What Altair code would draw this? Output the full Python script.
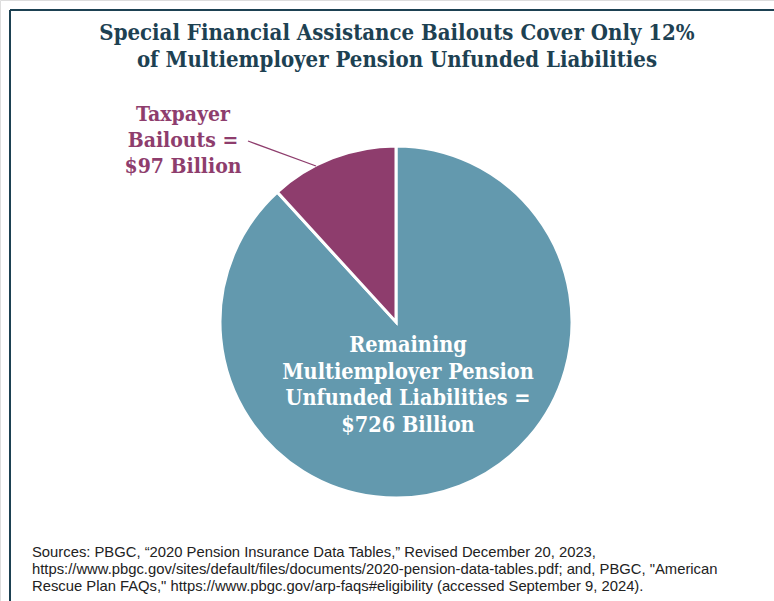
import altair as alt
import pandas as pd

categories = ["Remaining Multiemployer Pension Unfunded Liabilities", "Taxpayer Bailouts"]
values = [726, 97]
colors = ["#6399ae", "#8e3d6d"]
order = [0, 1]

title_lines = ["Special Financial Assistance Bailouts Cover Only 12%",
               "of Multiemployer Pension Unfunded Liabilities"]
bailout_label = ["Taxpayer", "Bailouts =", "$97 Billion"]
remaining_label = ["Remaining", "Multiemployer Pension", "Unfunded Liabilities =", "$726 Billion"]
source_lines = [
    "Sources: PBGC, \u201c2020 Pension Insurance Data Tables,\u201d Revised December 20, 2023,",
    "https://www.pbgc.gov/sites/default/files/documents/2020-pension-data-tables.pdf; and, PBGC, \"American",
    "Rescue Plan FAQs,\" https://www.pbgc.gov/arp-faqs#eligibility (accessed September 9, 2024).",
]

W, H = 774, 601
serif = "DejaVu Serif Condensed, DejaVu Serif"
navy = "#1d4152"

pie_df = pd.DataFrame({"cat": categories, "val": values, "ord": order})

pie = alt.Chart(pie_df).mark_arc(radius=176, stroke="white", strokeWidth=3).encode(
    theta=alt.Theta("val:Q", stack=True),
    order=alt.Order("ord:Q"),
    color=alt.Color("cat:N", scale=alt.Scale(domain=categories, range=colors), legend=None),
    x=alt.value(396),
    y=alt.value(322),
)

def text_layer(lines, x, y0, dy, size, color, font, weight="bold", align="center"):
    df = pd.DataFrame({"t": lines, "i": list(range(len(lines)))})
    return alt.Chart(df).mark_text(
        fontSize=size, font=font, fontWeight=weight, color=color, align=align, baseline="middle"
    ).transform_calculate(
        yy=f"{y0} + datum.i * {dy}"
    ).encode(
        text="t:N",
        x=alt.value(x),
        y=alt.Y("yy:Q", scale=None),
    )

title = text_layer(title_lines, 397, 33, 27, 22, navy, serif)
blab = text_layer(bailout_label, 183, 115, 26, 21, "#8e3d6d", serif)
rlab = text_layer(remaining_label, 408, 346, 26.5, 21.5, "white", serif)
src = text_layer(source_lines, 32, 553, 17, 14.8, "#222222", "Liberation Sans", weight="normal", align="left")

leader = alt.Chart(pd.DataFrame({"a": [0]})).mark_rule(color="#8e3d6d", strokeWidth=1.3).encode(
    x=alt.value(248), y=alt.value(141), x2=alt.value(316), y2=alt.value(166)
)
border_top = alt.Chart(pd.DataFrame({"a": [0]})).mark_rule(color=navy, strokeWidth=2).encode(
    x=alt.value(10), x2=alt.value(W), y=alt.value(10)
)
border_left = alt.Chart(pd.DataFrame({"a": [0]})).mark_rule(color=navy, strokeWidth=2).encode(
    x=alt.value(10), y=alt.value(10), y2=alt.value(H)
)

chart = alt.layer(pie, leader, title, blab, rlab, src, border_top, border_left).properties(
    width=W, height=H, padding=0, autosize=alt.AutoSizeParams(type="none")
).configure_view(stroke=None).configure(background="white")

chart.save("out.html", embed_options={"renderer": "svg", "actions": False})
